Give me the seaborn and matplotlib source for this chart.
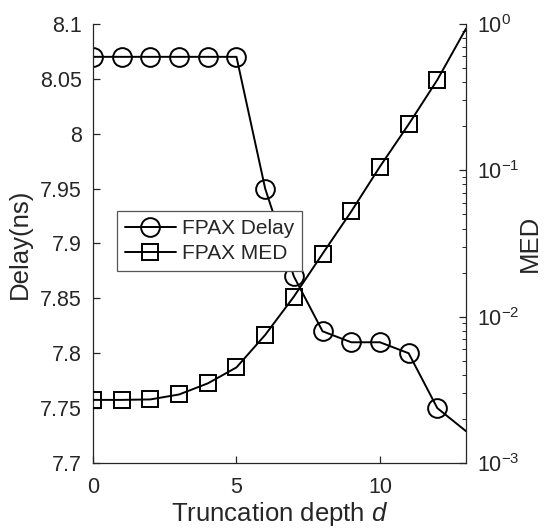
import matplotlib
matplotlib.use("Agg")
import matplotlib.pyplot as plt
import seaborn as sns
import numpy as np
from matplotlib.ticker import LogLocator, NullFormatter, LogFormatterMathtext

sns.set_theme(style="ticks")
plt.rcParams["font.family"] = ["Liberation Sans", "DejaVu Sans"]
plt.rcParams["mathtext.fontset"] = "custom"
plt.rcParams["mathtext.rm"] = "Liberation Sans"
plt.rcParams["mathtext.it"] = "Liberation Sans:italic"
plt.rcParams["xtick.direction"] = "in"
plt.rcParams["ytick.direction"] = "in"

# Truncation depth (line continues to the right edge, markers at 0..12)
depth = [0, 1, 2, 3, 4, 5, 6, 7, 8, 9, 10, 11, 12, 13]
delay_ns = [8.07, 8.07, 8.07, 8.07, 8.07, 8.07, 7.95, 7.87, 7.82, 7.81, 7.81, 7.80, 7.75, 7.729]
med = [2.7e-3, 2.7e-3, 2.72e-3, 2.94e-3, 3.5e-3, 4.5e-3, 7.5e-3, 1.37e-2,
       2.69e-2, 5.23e-2, 0.106, 0.206, 0.415, 0.93]
marked = list(range(13))

ink = "#262626"
tick_fs = 15.5
label_fs = 18.5
fig = plt.figure(figsize=(5.47, 5.31), dpi=100)
ax = fig.add_axes([0.170, 0.128, 0.682, 0.827])

sns.lineplot(x=depth, y=delay_ns, ax=ax, color="black", lw=1.4, marker="o",
             markersize=13.5, markerfacecolor="none", markeredgecolor="black",
             markeredgewidth=1.4, markevery=marked, label="FPAX Delay", legend=False)
ax.set_xlim(0, 13)
ax.set_ylim(7.7, 8.1)
ax.set_xticks([0, 5, 10])
ax.set_yticks([7.7, 7.75, 7.8, 7.85, 7.9, 7.95, 8.0, 8.05, 8.1])
ax.set_yticklabels(["7.7", "7.75", "7.8", "7.85", "7.9", "7.95", "8", "8.05", "8.1"])
ax.set_xlabel("Truncation depth $\\mathit{d}$", fontsize=label_fs, color=ink)
ax.set_ylabel("Delay(ns)", fontsize=label_fs, color=ink)
ax.xaxis.set_label_coords(0.5, -0.084)
ax.yaxis.set_label_coords(-0.1635, 0.5)

ax2 = ax.twinx()
sns.lineplot(x=depth, y=med, ax=ax2, color="black", lw=1.4, marker="s",
             markersize=11, markerfacecolor="none", markeredgecolor="black",
             markeredgewidth=1.4, markevery=marked, label="FPAX MED", legend=False)
ax2.set_yscale("log")
ax2.set_ylim(1e-3, 1e0)
ax2.yaxis.set_major_locator(LogLocator(base=10, numticks=10))
ax2.yaxis.set_major_formatter(LogFormatterMathtext())
ax2.yaxis.set_minor_locator(LogLocator(base=10, subs=np.arange(2, 10), numticks=20))
ax2.yaxis.set_minor_formatter(NullFormatter())
ax2.set_ylabel("MED", fontsize=label_fs, color=ink)
ax2.yaxis.set_label_coords(1.138, 0.5)

for a in (ax, ax2):
    a.spines["top"].set_visible(False)
    for s in a.spines.values():
        s.set_color(ink)
        s.set_linewidth(0.9)
    a.tick_params(axis="both", which="major", labelsize=tick_fs, colors=ink,
                  length=5, width=0.9)
    a.tick_params(axis="both", which="minor", length=3, width=0.7, colors=ink)
ax.tick_params(axis="x", which="major", pad=10)
ax.tick_params(axis="y", which="major", pad=8)
ax2.tick_params(axis="y", which="major", pad=8)
ax.spines["right"].set_visible(False)
ax2.spines["left"].set_visible(False)
ax2.spines["bottom"].set_visible(False)

h1, l1 = ax.get_legend_handles_labels()
h2, l2 = ax2.get_legend_handles_labels()
leg = ax2.legend(h1 + h2, l1 + l2, loc="upper left",
                 bbox_to_anchor=(0.2139, 0.6026), bbox_transform=fig.transFigure,
                 borderaxespad=0, fancybox=False, framealpha=1, edgecolor="#555555",
                 fontsize=15, handlelength=2.45, handletextpad=0.3, borderpad=0.38,
                 labelspacing=0.3)
leg.get_frame().set_linewidth(0.9)

fig.savefig("out.png", dpi=100)
